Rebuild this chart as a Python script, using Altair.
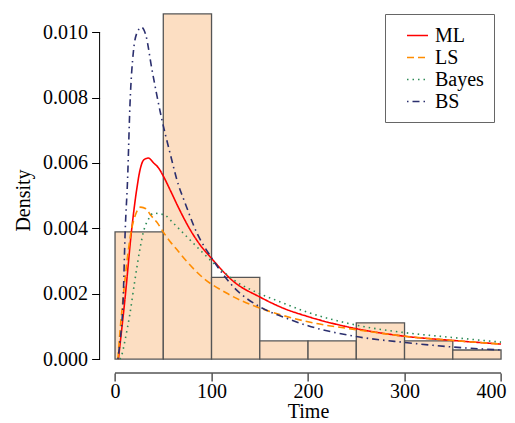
import altair as alt
import pandas as pd

# Histogram (bin width 50)
bin_start = [0, 50, 100, 150, 200, 250, 300, 350]
bin_end = [50, 100, 150, 200, 250, 300, 350, 400]
bin_density = [0.00389, 0.01056, 0.0025, 0.000556, 0.000556, 0.00111, 0.000556, 0.000278]

# Fitted density curves
ml_t = [3.5, 5, 10.5, 17, 22.5, 26, 30, 34.5, 40, 45, 50, 57, 66, 78, 88, 100, 123, 150, 175, 200, 250, 300, 350, 400]
ml_d = [0, 0.0004, 0.0019, 0.0039, 0.0052, 0.0058, 0.0061, 0.00615, 0.0060, 0.00585, 0.0056, 0.00518, 0.00462,
        0.00395, 0.0035, 0.00308, 0.00237, 0.0019, 0.00155, 0.0013, 0.00093, 0.0007, 0.00057, 0.00046]

ls_t = [3, 5, 8.5, 12, 17, 21, 26.5, 32, 37, 43, 52, 57, 65.5, 74, 91.5, 115.5, 150, 160, 200, 250, 300, 350, 400]
ls_d = [0, 0.0008, 0.0019, 0.0029, 0.00395, 0.0044, 0.00465, 0.0046, 0.0044, 0.0042, 0.0038, 0.0036, 0.0033,
        0.0030, 0.00248, 0.00202, 0.00156, 0.00146, 0.00114, 0.0009, 0.0007, 0.00057, 0.00046]

bayes_t = [5, 7, 10.5, 15.5, 20.5, 26, 29.5, 35, 40, 45, 52, 59, 72.5, 88, 102, 126, 147, 167, 200, 250, 300, 350, 400]
bayes_d = [0, 0.00013, 0.0006, 0.0014, 0.0024, 0.0034, 0.0039, 0.0043, 0.00447, 0.00445, 0.0044, 0.0042, 0.0038,
           0.00334, 0.00294, 0.00236, 0.00204, 0.0018, 0.00143, 0.00104, 0.00081, 0.00066, 0.00052]

bs_t = [3, 5, 8.5, 10.5, 13, 15.5, 19, 23, 27.5, 32, 38, 48, 57, 66, 71, 85, 100, 123, 150, 175, 200, 250, 300, 350, 400]
bs_d = [0, 0.0005, 0.0019, 0.0039, 0.0055, 0.0078, 0.0094, 0.0100, 0.01015, 0.0099, 0.0089, 0.0074, 0.0063, 0.0053,
        0.0049, 0.00385, 0.0031, 0.0022, 0.0016, 0.00128, 0.00102, 0.00069, 0.00051, 0.00037, 0.00028]

methods = ["ML", "LS", "Bayes", "BS"]
colors = ["#FF0000", "#FF8C00", "#2E8B57", "#2B2F6E"]
dashes = [[1, 0], [7, 4], [1.5, 4], [1.5, 4, 7, 4]]

x_ticks = [0, 100, 200, 300, 400]
y_ticks = [0, 0.002, 0.004, 0.006, 0.008, 0.010]

FONT = "Liberation Serif"

hist = pd.DataFrame({"start": bin_start, "end": bin_end, "density": bin_density})
rows = []
for name, ts, ds in [("ML", ml_t, ml_d), ("LS", ls_t, ls_d), ("Bayes", bayes_t, bayes_d), ("BS", bs_t, bs_d)]:
    for i, (t, d) in enumerate(zip(ts, ds)):
        rows.append({"method": name, "t": t, "d": d, "i": i})
curves = pd.DataFrame(rows)

W, H = 407, 365
xscale = alt.Scale(domain=[-16, 405.76], nice=False, zero=False)
yscale = alt.Scale(domain=[-0.000425, 0.01074], nice=False, zero=False)

bars = alt.Chart(hist).mark_bar(fill="#FCDEC2", stroke="#555555", strokeWidth=1.3).encode(
    x=alt.X("start:Q", scale=xscale,
            axis=alt.Axis(values=x_ticks, title="Time", domain=False, grid=False, tickSize=8,
                          tickColor="black", labelPadding=0, labelColor="black",
                          labelFlush=10, labelFlushOffset=5,
                          titleX=208.4, titleY=44, titleBaseline="alphabetic",
                          titleAlign="center")),
    x2="end:Q",
    y=alt.Y("density:Q", scale=yscale,
            axis=alt.Axis(values=y_ticks, format=".3f", title="Density", domain=False, grid=False,
                          tickSize=8, tickColor="black", labelPadding=4, labelColor="black",
                          titleX=-70.6, titleY=192, titleAngle=270, titleBaseline="alphabetic",
                          titleAlign="center")),
    y2=alt.datum(0),
)

lines = alt.Chart(curves).mark_line(strokeWidth=1.6, interpolate="monotone").encode(
    x=alt.X("t:Q", scale=xscale),
    y=alt.Y("d:Q", scale=yscale),
    order="i:Q",
    color=alt.Color("method:N", scale=alt.Scale(domain=methods, range=colors),
                    sort=methods, title=None,
                    legend=alt.Legend(orient="none", legendX=285.4, legendY=6, symbolType="stroke",
                                      symbolSize=441, symbolStrokeWidth=1.6, labelFontSize=20,
                                      labelFont=FONT, labelColor="black", strokeColor="#666666",
                                      fillColor="white", padding=10, symbolOffset=11,
                                      labelOffset=6, rowPadding=0)),
    strokeDash=alt.StrokeDash("method:N", scale=alt.Scale(domain=methods, range=dashes),
                              sort=methods, title=None),
)

axis_df = pd.DataFrame({"a": [0]})
yline = alt.Chart(axis_df).mark_rule(color="black", strokeWidth=1).encode(
    x=alt.value(0), y=alt.datum(y_ticks[0]), y2=alt.datum(y_ticks[-1]))
xline = alt.Chart(axis_df).mark_rule(color="black", strokeWidth=1).encode(
    y=alt.value(H), x=alt.datum(x_ticks[0]), x2=alt.datum(x_ticks[-1]))

chart = alt.layer(bars, lines, yline, xline).properties(
    width=W, height=H,
    autosize=alt.AutoSizeParams(type="none"),
    padding={"left": 91.6, "top": 0, "right": 0.4, "bottom": 48},
).configure_view(stroke=None).configure_axis(
    labelFont=FONT, labelFontSize=20, titleFont=FONT, titleFontSize=20,
    titleFontWeight="normal", titleColor="black",
).configure_legend(labelFont=FONT)

chart.save("out.html", embed_options={"renderer": "svg", "actions": False})
